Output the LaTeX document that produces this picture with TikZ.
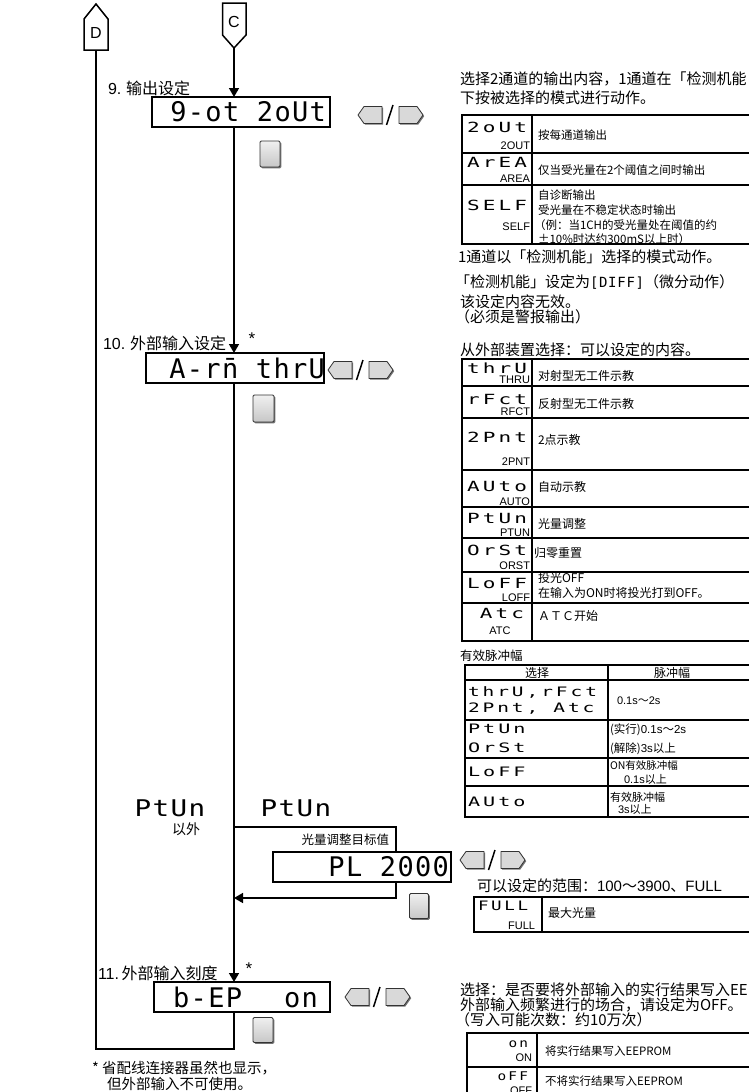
\documentclass[tikz,border=0pt]{standalone}
\usepackage{fontspec}
\usepackage{graphicx}
\setmainfont{Noto Sans CJK SC}
\newfontfamily\hel{Liberation Sans}
\newfontfamily\segA{DejaVu Sans Mono}[LetterSpace=5]
\newfontfamily\segB{DejaVu Sans Mono}[LetterSpace=15]
\usetikzlibrary{arrows.meta,shadows}
\newcommand\fs[1]{\fontsize{#1}{#1}\selectfont}
\newcommand\dsp[1]{{\segA\fs{27}#1}}
\newcommand\sgb[1]{{\segA\fs{23}\scalebox{1.2}[1]{#1}}}
\newcommand\sg[3]{{\segB\fs{#1}\scalebox{#2}[1]{#3}}}
\newcommand\lab[1]{{\hel\fs{11}#1}}
\begin{document}
\begin{tikzpicture}[x=1pt,y=-1pt,
  every node/.style={inner sep=0pt,outer sep=0pt},
  dbox/.style={draw,fill=white,line width=1.8pt,minimum height=30pt},
  flow/.style={line width=1.5pt},
  arr/.style={flow,-{Triangle[width=10pt,length=9pt]}},
  tbl/.style={line width=1.1pt},
  btn/.style={draw=black!80,line width=0.8pt,fill=black!15,line join=round},
  sqbtn/.style={draw=black!80,line width=0.8pt,top color=black!6,bottom color=black!22,rounded corners=1.2pt,
     drop shadow={shadow xshift=1.3pt,shadow yshift=-1.3pt,fill=black!55,opacity=1}},
  pent/.style={draw,line width=1.5pt,fill=white,line join=miter},
  prose/.style={anchor=west,font=\fs{15}},
  llab/.style={anchor=west,font=\fs{16}},
  cell/.style={anchor=west,font=\fs{12}},
  lrbtn/.pic={
    \fill[black!55] (1.2,1.2) -- (7.2,-7.3) -- (25.2,-7.3) -- (25.2,9.7) -- (7.2,9.7) -- cycle;
    \draw[btn] (0,0) -- (6,-8.5) -- (24,-8.5) -- (24,8.5) -- (6,8.5) -- cycle;
    \draw[line width=1.5pt] (28.5,10) -- (35,-10);
    \fill[black!55] (42.2,-7.3) -- (60.2,-7.3) -- (66.2,1.2) -- (60.2,9.7) -- (42.2,9.7) -- cycle;
    \draw[btn] (41,-8.5) -- (59,-8.5) -- (65,0) -- (59,8.5) -- (41,8.5) -- cycle;
  }]
\useasboundingbox (0,0) rectangle (748,1092);
\fill[white] (0,0) rectangle (748,1092);

% ---------- connectors D and C ----------
\draw[pent] (84,50) -- (84,19) -- (96,4) -- (108,19) -- (108,50) -- cycle;
\node (Dl) at (96,33) {\hel\fs{16}D};
\coordinate (Dbot) at (96,50);
\draw[pent] (222.5,3) -- (246,3) -- (246,35) -- (234,48) -- (222.5,35) -- cycle;
\node (Cl) at (234,22) {\hel\fs{16}C};
\coordinate (Cbot) at (234,48);

% ---------- display boxes ----------
\node[dbox,minimum width=178pt] (b1) at (241,112) {};
\node[dbox,minimum width=178pt] (b2) at (235,368) {};
\node[dbox,minimum width=178pt] (b3) at (362,867) {};
\node[dbox,minimum width=176pt] (b4) at (242,997) {};

\coordinate (j1) at (234,827);
\coordinate (j2) at (396,827);
\coordinate (j3) at (396,898);
\coordinate (L1) at (234,1049);
\coordinate (L2) at (96,1049);

% flow lines
\draw[arr] (Cbot) -- (Cbot |- b1.north);
\draw[arr] (Cbot |- b1.south) -- (Cbot |- b2.north);
\draw[arr] (Cbot |- b2.south) -- (Cbot |- b4.north);
\draw[flow] (j1) -- (j2) -- (j2 |- b3.north);
\draw[arr] (j2 |- b3.south) -- (j3) -- (j3 -| Cbot);
\draw[flow] (Cbot |- b4.south) -- (L1) -- (L2) -- (Dbot);

% redraw boxes on top
\node[dbox,minimum width=178pt] (b1f) at (241,112) {};
\node[dbox,minimum width=178pt] (b2f) at (235,368) {};
\node[dbox,minimum width=178pt] (b3f) at (362,867) {};
\node[dbox,minimum width=176pt] (b4f) at (242,997) {};
\node[anchor=east] (t1) at (326,112) {\dsp{9-ot 2oUt}};
\node[anchor=east] (t2) at (325,368) {\dsp{A-rn̄ thrU}};
\node[anchor=east] (t3) at (449,867) {\dsp{PL 2000}};
\node[anchor=east] (t4) at (318,997) {\dsp{b-EP\hspace{42pt}on}};

% labels left
\node[llab] (l1) at (108,88) {{\hel 9.} 输出设定};
\node[llab] (l2) at (103,343) {{\hel 10.} 外部输入设定};
\node[llab] (l3) at (98,973) {{\hel 11.}\,外部输入刻度};
\node (st1) at (252,339) {\hel\fs{17}*};
\node (st2) at (249,969) {\hel\fs{17}*};
\node (pt1) at (170,808) {\sgb{PtUn}};
\node (pt1b) at (186,829) {\fs{14}以外};
\node (pt2) at (296,808) {\sgb{PtUn}};
\node[anchor=east] (plab) at (389,840) {\fs{12.5}光量调整目标值};
\node[anchor=west,font=\fs{14.5}] (fn1) at (92,1068) {* 省配线连接器虽然也显示，};
\node[anchor=west,font=\fs{14.5}] (fn2) at (107,1084) {但外部输入不可使用。};

% buttons
\pic at (358,115) {lrbtn};
\pic at (328,370) {lrbtn};
\pic at (460,860) {lrbtn};
\pic at (345,997) {lrbtn};
\node[sqbtn,minimum width=20pt,minimum height=26pt] (s1) at (270,154) {};
\node[sqbtn,minimum width=21pt,minimum height=27pt] (s2) at (263.5,408.5) {};
\node[sqbtn,minimum width=19pt,minimum height=25pt] (s3) at (419,906) {};
\node[sqbtn,minimum width=20pt,minimum height=25pt] (s4) at (263,1030) {};

% ---------- right column ----------
\node[prose] (r1) at (460,79) {选择2通道的输出内容，1通道在「检测机能};
\node[prose] (r2) at (460,98) {下按被选择的模式进行动作。};
% table A
\draw[tbl] (462,115) rectangle (760,244);
\draw[tbl] (462,153) -- (760,153) (462,185) -- (760,185) (532,115) -- (532,244);
\node[anchor=west] (a1) at (467,127) {\sg{14}{1.5}{2oUt}};
\node[anchor=east] (a1l) at (530,146) {\lab{2OUT}};
\node[cell,font=\fs{11.5}] (a1t) at (538,135) {按每通道输出};
\node[anchor=west] (a2) at (467,162) {\sg{14}{1.5}{ArEA}};
\node[anchor=east] (a2l) at (530,179) {\lab{AREA}};
\node[cell,font=\fs{11.5}] (a2t) at (538,170) {仅当受光量在2个阈值之间时输出};
\node[anchor=west] (a3) at (467,205) {\sg{14}{1.5}{SELF}};
\node[anchor=east] (a3l) at (530,227) {\lab{SELF}};
\node[cell,font=\fs{11.5}] (a3t1) at (538,195) {自诊断输出};
\node[cell,font=\fs{11.5}] (a3t2) at (538,210) {受光量在不稳定状态时输出};
\node[cell,font=\fs{11.5}] (a3t3) at (534,225) {（例：当1CH的受光量处在阈值的约};
\node[cell,font=\fs{11.5}] (a3t4) at (538,239) {±10\%时达约300mS以上时）};
\node[prose] (r3) at (458,257) {1通道以「检测机能」选择的模式动作。};
\node[prose] (r4) at (455,282) {「检测机能」设定为{\segA\fs{14}[DIFF]}（微分动作）};
\node[prose] (r5) at (460,302) {该设定内容无效。};
\node[prose] (r6) at (455,317) {（必须是警报输出）};
\node[prose] (r7) at (460,350) {从外部装置选择：可以设定的内容。};
% table B
\draw[tbl] (462,359) rectangle (760,641);
\foreach \yy in {386,418,470,507,538,572,603} \draw[tbl] (462,\yy) -- (760,\yy);
\draw[tbl] (532,359) -- (532,641);
\node[anchor=west] (c1) at (467,368) {\sg{14}{1.5}{thrU}};
\node[anchor=east] (c1l) at (530,380) {\lab{THRU}};
\node[cell] (c1t) at (538,376) {对射型无工件示教};
\node[anchor=west] (c2) at (467,399) {\sg{14}{1.5}{rFct}};
\node[anchor=east] (c2l) at (530,412) {\lab{RFCT}};
\node[cell] (c2t) at (538,404) {反射型无工件示教};
\node[anchor=west] (c3) at (467,437) {\sg{14}{1.5}{2Pnt}};
\node[anchor=east] (c3l) at (530,462) {\lab{2PNT}};
\node[cell] (c3t) at (538,440) {2点示教};
\node[anchor=west] (c4) at (467,486) {\sg{14}{1.5}{AUto}};
\node[anchor=east] (c4l) at (530,502) {\lab{AUTO}};
\node[cell] (c4t) at (538,487) {自动示教};
\node[anchor=west] (c5) at (467,518) {\sg{14}{1.5}{PtUn}};
\node[anchor=east] (c5l) at (530,533) {\lab{PTUN}};
\node[cell] (c5t) at (538,524) {光量调整};
\node[anchor=west] (c6) at (467,550) {\sg{14}{1.5}{OrSt}};
\node[anchor=east] (c6l) at (530,566) {\lab{ORST}};
\node[cell] (c6t) at (534,553) {归零重置};
\node[anchor=west] (c7) at (467,583) {\sg{14}{1.5}{LoFF}};
\node[anchor=east] (c7l) at (530,598) {\lab{LOFF}};
\node[cell] (c7t1) at (538,578) {投光OFF};
\node[cell] (c7t2) at (538,593) {在输入为ON时将投光打到OFF。};
\node (c8) at (502,613) {\sg{14}{1.5}{Atc}};
\node (c8l) at (500,631) {\lab{ATC}};
\node[cell] (c8t) at (538,616) {ＡＴＣ开始};
% pulse table
\node[anchor=west,font=\fs{12.5}] (r8) at (460,656) {有效脉冲幅};
\draw[tbl] (465,665) rectangle (760,817);
\foreach \yy in {680,720,758,786} \draw[tbl] (465,\yy) -- (760,\yy);
\draw[tbl] (608,665) -- (608,817);
\node[font=\fs{12}] (ph1) at (537,673) {选择};
\node[font=\fs{12}] (ph2) at (672,673) {脉冲幅};
\node[anchor=west] (p1a) at (468,692) {\sg{13}{1.5}{thrU,rFct}};
\node[anchor=west] (p1b) at (468,709) {\sg{13}{1.5}{2Pnt,\hspace{10pt}Atc}};
\node[anchor=west] (p1t) at (617,701) {{\hel\fs{11}0.1s}\fs{11}～{\hel\fs{11}2s}};
\node[anchor=west] (p2a) at (468,729) {\sg{13}{1.55}{PtUn}};
\node[anchor=west] (p2b) at (468,748) {\sg{13}{1.55}{OrSt}};
\node[anchor=west] (p2t1) at (610,730) {\fs{11.5}(实行){\hel 0.1s}～{\hel 2s}};
\node[anchor=west] (p2t2) at (610,749) {\fs{11.5}(解除){\hel 3s}以上};
\node[anchor=west] (p3a) at (468,772) {\sg{13}{1.55}{LoFF}};
\node[anchor=west] (p3t1) at (610,766) {\fs{10.5}ON有效脉冲幅};
\node[anchor=west] (p3t2) at (624,779) {\fs{11}{\hel 0.1s}以上};
\node[anchor=west] (p4a) at (468,802) {\sg{13}{1.55}{AUto}};
\node[anchor=west] (p4t1) at (610,797) {\fs{11}有效脉冲幅};
\node[anchor=west] (p4t2) at (618,809) {\fs{11}{\hel 3s}以上};
% FULL
\node[prose] (r9) at (477,886) {可以设定的范围：{\hel 100}～{\hel 3900}、{\hel FULL}};
\draw[tbl] (474,897) rectangle (760,932);
\draw[tbl] (542,897) -- (542,932);
\node[anchor=west] (f1) at (478,906) {\sg{13}{1.35}{FULL}};
\node[anchor=east] (f1l) at (535,926) {\lab{FULL}};
\node[cell] (f1t) at (548,913) {最大光量};
% EEPROM
\node[prose] (r10) at (460,990) {选择：是否要将外部输入的实行结果写入EEPROM};
\node[prose] (r11) at (460,1005) {外部输入频繁进行的场合，请设定为OFF。};
\node[prose] (r12) at (455,1020) {（写入可能次数：约10万次）};
\draw[tbl] (467,1033) rectangle (760,1100);
\draw[tbl] (467,1067) -- (760,1067) (537,1033) -- (537,1100);
\node[anchor=east] (e1) at (528,1044) {\sg{12}{1.2}{on}};
\node[anchor=east] (e1l) at (532,1058) {\lab{ON}};
\node[cell,font=\fs{11.5}] (e1t) at (545,1051) {将实行结果写入EEPROM};
\node[anchor=east] (e2) at (528,1076) {\sg{12}{1.2}{oFF}};
\node[anchor=east] (e2l) at (532,1091) {\lab{OFF}};
\node[cell,font=\fs{11.5}] (e2t) at (545,1081) {不将实行结果写入EEPROM};
\end{tikzpicture}
\end{document}
